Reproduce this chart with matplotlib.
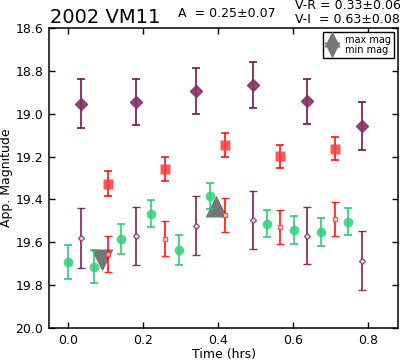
import matplotlib
matplotlib.use("Agg")
import matplotlib.pyplot as plt

# V band (large filled diamonds)
t_v = [0.034, 0.182, 0.343, 0.493, 0.637, 0.783]
mag_v = [18.953, 18.944, 18.893, 18.867, 18.941, 19.057]
err_v = [0.114, 0.107, 0.108, 0.106, 0.105, 0.111]

# I band shifted (small open diamonds)
mag_i = [19.581, 19.572, 19.522, 19.496, 19.569, 19.686]
err_i = [0.141, 0.135, 0.138, 0.134, 0.134, 0.139]

# R band (large filled squares)
t_r = [0.107, 0.258, 0.418, 0.565, 0.711]
mag_r = [19.327, 19.257, 19.146, 19.199, 19.163]
err_r = [0.059, 0.057, 0.057, 0.055, 0.055]

# R shifted (small open squares)
mag_r2 = [19.655, 19.583, 19.473, 19.527, 19.493]
err_r2 = [0.082, 0.082, 0.080, 0.079, 0.079]

# green circles
t_g = [0.0, 0.071, 0.143, 0.221, 0.297, 0.379, 0.530, 0.603, 0.676, 0.747]
mag_g = [19.692, 19.714, 19.586, 19.466, 19.636, 19.385, 19.513, 19.541, 19.552, 19.505]
err_g = [0.080, 0.078, 0.070, 0.064, 0.071, 0.062, 0.063, 0.065, 0.065, 0.063]

t_max, mag_max = [0.396], [19.431]
t_min, mag_min = [0.090], [19.683]

plt.rcParams['font.family'] = 'DejaVu Sans'
plt.rcParams['font.size'] = 9

fig = plt.figure(figsize=(4.0, 3.62), dpi=100)
ax = fig.add_axes([0.1225, 0.094, 0.8725, 0.8287])

ax.plot(t_max, mag_max, '^', color='#777777', ms=16, mec='none', label='max mag', zorder=1)
ax.plot(t_min, mag_min, 'v', color='#777777', ms=16, mec='none', label='min mag', zorder=1)

purple = '#8a2f68'
epurple = '#6e1248'
red = '#ff3b3b'
green = '#2fd27a'

ax.errorbar(t_v, mag_v, yerr=err_v, fmt='D', ms=6, color=purple, mec=purple,
            ecolor=epurple, elinewidth=1.3, capsize=3, capthick=1.3, alpha=0.9, zorder=3)
ax.errorbar(t_v, mag_i, yerr=err_i, fmt='D', ms=3, color=purple, mfc='white', mec=purple,
            mew=1.0, ecolor=epurple, elinewidth=1.3, capsize=3, capthick=1.3, alpha=0.85, zorder=3)
ax.errorbar(t_r, mag_r, yerr=err_r, fmt='s', ms=7, color=red, mec='none',
            ecolor='#ff0000', elinewidth=1.3, capsize=3, capthick=1.3, alpha=0.85, zorder=3)
ax.errorbar(t_r, mag_r2, yerr=err_r2, fmt='s', ms=3.5, color=red, mfc='white', mec=red,
            mew=1.0, ecolor='#ff0000', elinewidth=1.3, capsize=3, capthick=1.3, alpha=0.85, zorder=3)
ax.errorbar(t_g, mag_g, yerr=err_g, fmt='o', ms=7, color=green, mec='none',
            ecolor='#1fc868', elinewidth=1.3, capsize=3, capthick=1.3, alpha=0.85, zorder=3)

ax.set_xlim(-0.05, 0.88)
ax.set_ylim(20.0, 18.6)
ax.set_xticks([0.0, 0.2, 0.4, 0.6, 0.8])
ax.set_yticks([18.6, 18.8, 19.0, 19.2, 19.4, 19.6, 19.8, 20.0])
ax.xaxis.set_major_formatter(matplotlib.ticker.FormatStrFormatter('%.1f'))
ax.yaxis.set_major_formatter(matplotlib.ticker.FormatStrFormatter('%.1f'))
ax.tick_params(direction='in', top=True, right=True, length=4, width=1, pad=4, labelsize=9)
for s in ax.spines.values():
    s.set_linewidth(1.1)

ax.set_xlabel('Time (hrs)', fontsize=9, labelpad=1)
ax.set_ylabel('App. Magnitude', fontsize=9, labelpad=2)

leg = ax.legend(loc='upper right', numpoints=1, fontsize=7, markerscale=0.72,
                labelspacing=0.05, handlelength=1.2, handletextpad=0.8,
                borderpad=0.3, borderaxespad=0.4, fancybox=False, framealpha=1)
leg.get_frame().set_edgecolor('black')
leg.get_frame().set_linewidth(1.0)

fig.text(0.125, 0.9365, '2002 VM11', fontsize=14, va='baseline', ha='left')
fig.text(0.445, 0.952, 'A  = 0.25\u00b10.07', fontsize=9, va='baseline', ha='left')
fig.text(0.7375, 0.976, 'V-R = 0.33\u00b10.06', fontsize=9, va='baseline', ha='left')
fig.text(0.7375, 0.9365, 'V-I  = 0.63\u00b10.08', fontsize=9, va='baseline', ha='left')

fig.savefig('out.png', dpi=100)
